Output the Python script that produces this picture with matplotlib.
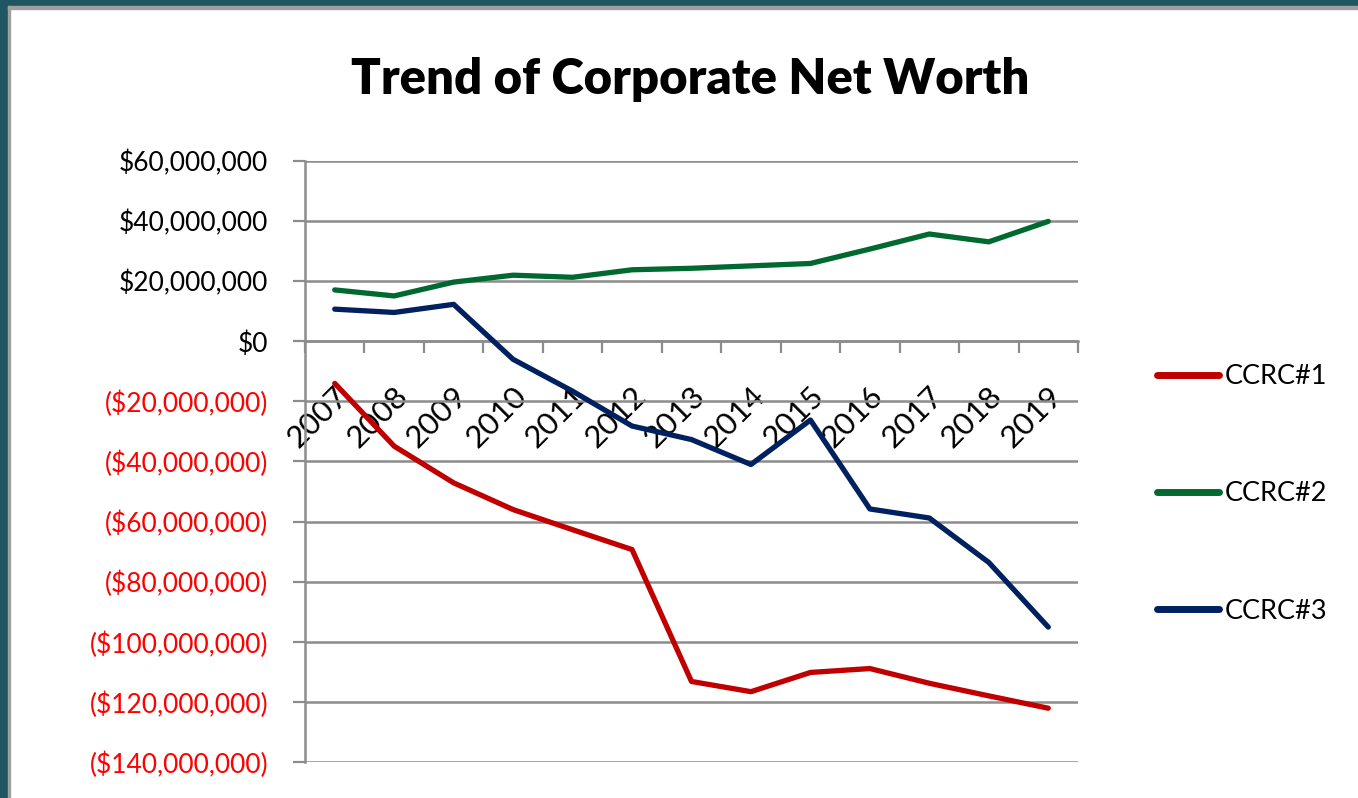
import matplotlib
matplotlib.use("Agg")
import matplotlib.pyplot as plt
import matplotlib.ticker as ticker
from matplotlib.patches import Rectangle
from matplotlib.transforms import ScaledTranslation

# values in millions of dollars
years = ["2007", "2008", "2009", "2010", "2011", "2012", "2013",
         "2014", "2015", "2016", "2017", "2018", "2019"]
ccrc1 = [-14.0, -34.9, -47.1, -56.0, -62.7, -69.3, -113.2,
         -116.6, -110.2, -108.9, -113.8, -118.0, -122.1]
ccrc2 = [17.1, 15.1, 19.7, 22.0, 21.3, 23.8, 24.3,
         25.1, 25.9, 30.7, 35.7, 33.1, 39.9]
ccrc3 = [10.7, 9.6, 12.3, -6.0, -16.6, -28.2, -32.7,
         -41.0, -26.2, -55.8, -58.8, -73.6, -95.1]
series_names = ["CCRC#1", "CCRC#2", "CCRC#3"]
series_colors = ["#c00000", "#00692f", "#002060"]

FONT = "Lato"
GRID = "#8c8c8c"
W, H = 1358, 798

plt.rcParams["font.family"] = [FONT, "DejaVu Sans"]

fig = plt.figure(figsize=(W / 100, H / 100), dpi=100, facecolor="white")
ax = fig.add_axes([305 / W, 1 - 762 / H, 773 / W, 601 / H])

x = list(range(len(years)))
for vals, name, col in zip([ccrc1, ccrc2, ccrc3], series_names, series_colors):
    ax.plot(x, [v * 1e6 for v in vals], color=col, lw=3.8, label=name,
            solid_capstyle="round", solid_joinstyle="round", zorder=3)

ax.set_xlim(-0.5, len(years) - 0.5)
ax.set_ylim(-140e6, 60e6)

# y axis
ax.yaxis.set_major_locator(ticker.MultipleLocator(20e6))


def money(v, _):
    if abs(v) < 1:
        return "$0"
    if v < 0:
        return f"(${-v:,.0f})"
    return f"${v:,.0f}"


ax.yaxis.set_major_formatter(ticker.FuncFormatter(money))
ax.yaxis.grid(True, color=GRID, lw=1.8)
ax.set_axisbelow(True)
ax.tick_params(axis="y", direction="out", length=8.6, width=1.6, color=GRID,
               pad=18, labelsize=19)
fig.canvas.draw()
for lbl in ax.get_yticklabels():
    if lbl.get_text().startswith("("):
        lbl.set_color("#ff0000")
    else:
        lbl.set_color("black")

# x axis crosses at zero, ticks between categories
for s in ["top", "right"]:
    ax.spines[s].set_visible(False)
ax.spines["bottom"].set_position(("data", 0))
for s in ["bottom", "left"]:
    ax.spines[s].set_color(GRID)
    ax.spines[s].set_linewidth(1.8)

ax.set_xticks(x)
ax.set_xticklabels(years, rotation=45, rotation_mode="anchor",
                   ha="right", va="center", fontsize=22.5)
ax.set_xticks([i - 0.5 for i in range(len(years) + 1)], minor=True)
ax.tick_params(axis="x", which="major", length=0, pad=36)
ax.tick_params(axis="x", which="minor", direction="out", length=8.6,
               width=1.6, color=GRID)
shift = ScaledTranslation(9 / 100, 0, fig.dpi_scale_trans)
for lbl in ax.get_xticklabels():
    lbl.set_transform(lbl.get_transform() + shift)

fig.text(690 / W, 1 - 80 / H, "Trend of Corporate Net Worth",
         fontsize=35.3, fontweight="heavy", ha="center", va="center")

leg = fig.legend(loc="center left", bbox_to_anchor=(1157 / W, 1 - 494 / H),
                 frameon=False, fontsize=19.5, handlelength=2.3,
                 handletextpad=0.2, labelspacing=3.4, borderpad=0,
                 borderaxespad=0)
for h in leg.get_lines():
    h.set_linewidth(5)
    h.set_solid_capstyle("round")

# slide frame
teal = "#1f5661"
fig.patches.append(Rectangle((0, 0), 8 / W, 1, transform=fig.transFigure,
                             color=teal, zorder=0))
fig.patches.append(Rectangle((0, 1 - 6 / H), 1, 6 / H, transform=fig.transFigure,
                             color=teal, zorder=0))
fig.patches.append(Rectangle((8 / W, 0), 2 / W, 1 - 6 / H, transform=fig.transFigure,
                             color="#a0a0a0", zorder=0))
fig.patches.append(Rectangle((8 / W, 1 - 9 / H), 1, 3 / H, transform=fig.transFigure,
                             color="#a0a0a0", zorder=0))

fig.savefig("out.png", dpi=100, facecolor="white")
